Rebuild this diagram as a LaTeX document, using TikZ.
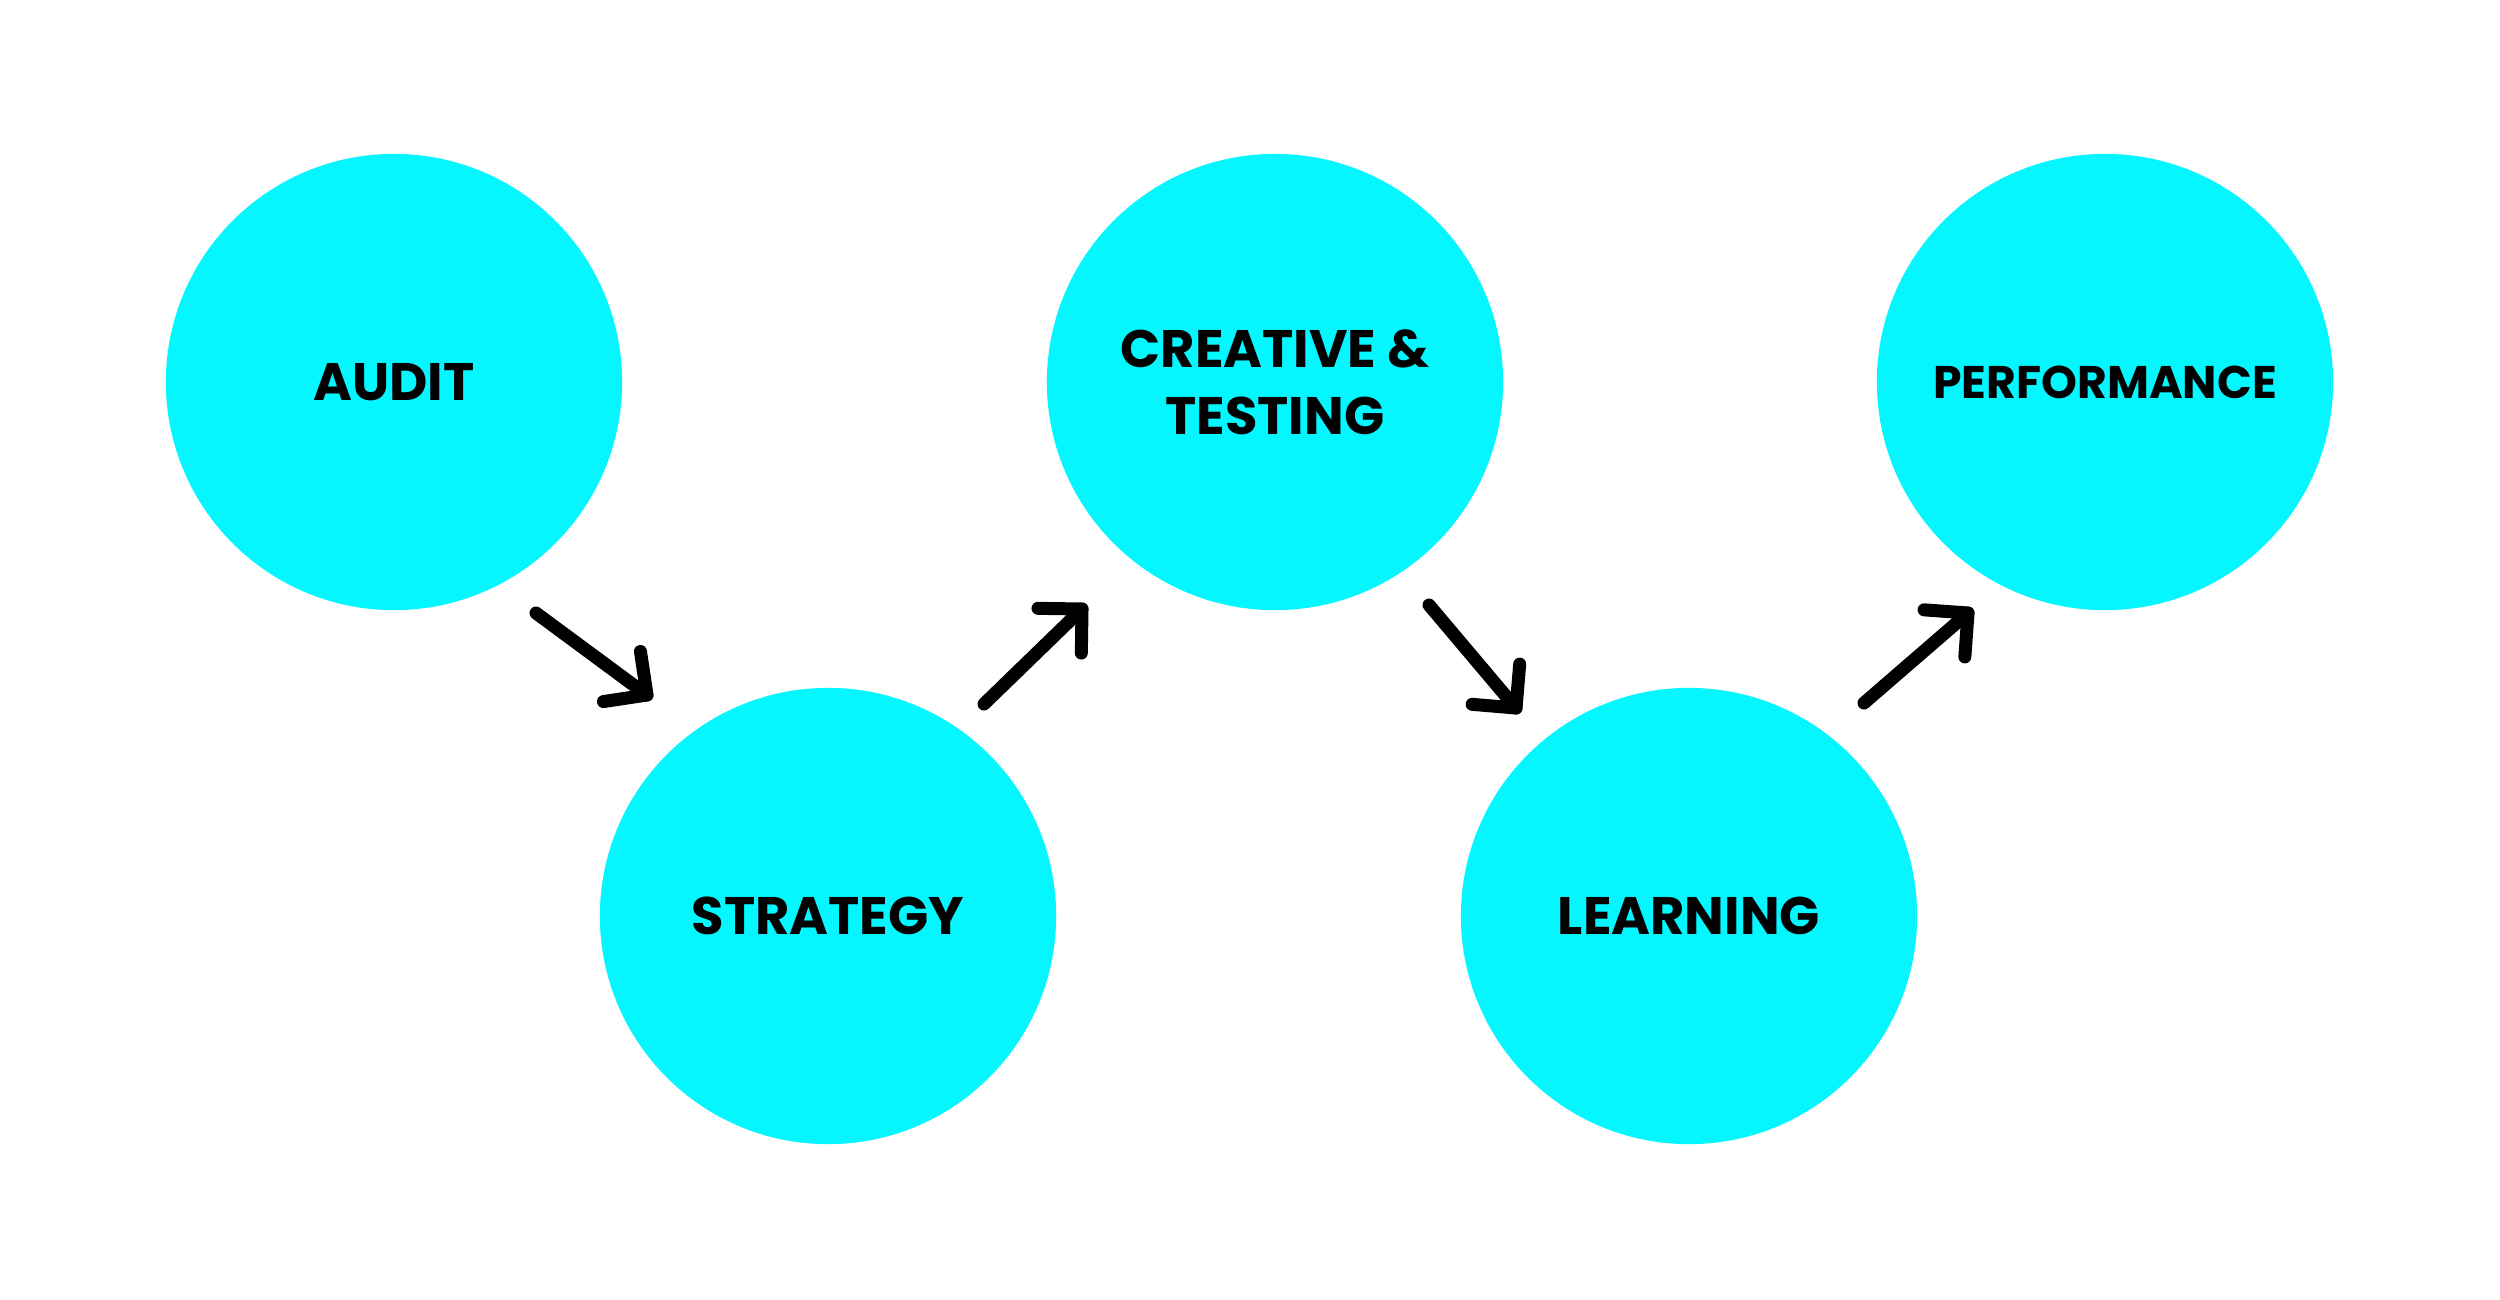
\documentclass[tikz,border=0pt]{standalone}
\usepackage{fontspec}
\newfontfamily\lab{Poppins}
\usetikzlibrary{calc}
\definecolor{cyanfill}{HTML}{04F7FF}
\tikzset{
  stage/.style={circle, fill=cyanfill, inner sep=0pt, minimum size=4.56cm,
    font=\lab\bfseries\fontsize{15}{19}\selectfont, align=center, text=black},
  arr/.style={line width=0.13cm, line cap=round, line join=round, black}
}
\newcommand{\arrowto}[2]{%
  \draw[arr] (#1) -- (#2);
  \draw[arr] ($(#2)!0.44cm!45:(#1)$) -- (#2) -- ($(#2)!0.44cm!-45:(#1)$);
}
\begin{document}
\begin{tikzpicture}[x=0.01cm, y=-0.01cm]
\useasboundingbox (0,0) rectangle (2500,1299);
\fill[white] (0,0) rectangle (2500,1299);
\node[stage] (audit) at (394,382) {AUDIT};
\node[stage] (strategy) at (828,916) {STRATEGY};
\node[stage] (creative) at (1275,382) {CREATIVE \&\\TESTING};
\node[stage] (learning) at (1689,916) {LEARNING};
\node[stage, font=\lab\bfseries\fontsize{13}{16}\selectfont] (performance) at (2105,382) {PERFORMANCE};
\coordinate (t1) at (536,613); \coordinate (h1) at (647,695);
\coordinate (t2) at (984,704); \coordinate (h2) at (1082,609);
\coordinate (t3) at (1429,605); \coordinate (h3) at (1516,708);
\coordinate (t4) at (1864,703); \coordinate (h4) at (1968,613);
\arrowto{t1}{h1}
\arrowto{t2}{h2}
\arrowto{t3}{h3}
\arrowto{t4}{h4}
\end{tikzpicture}
\end{document}
